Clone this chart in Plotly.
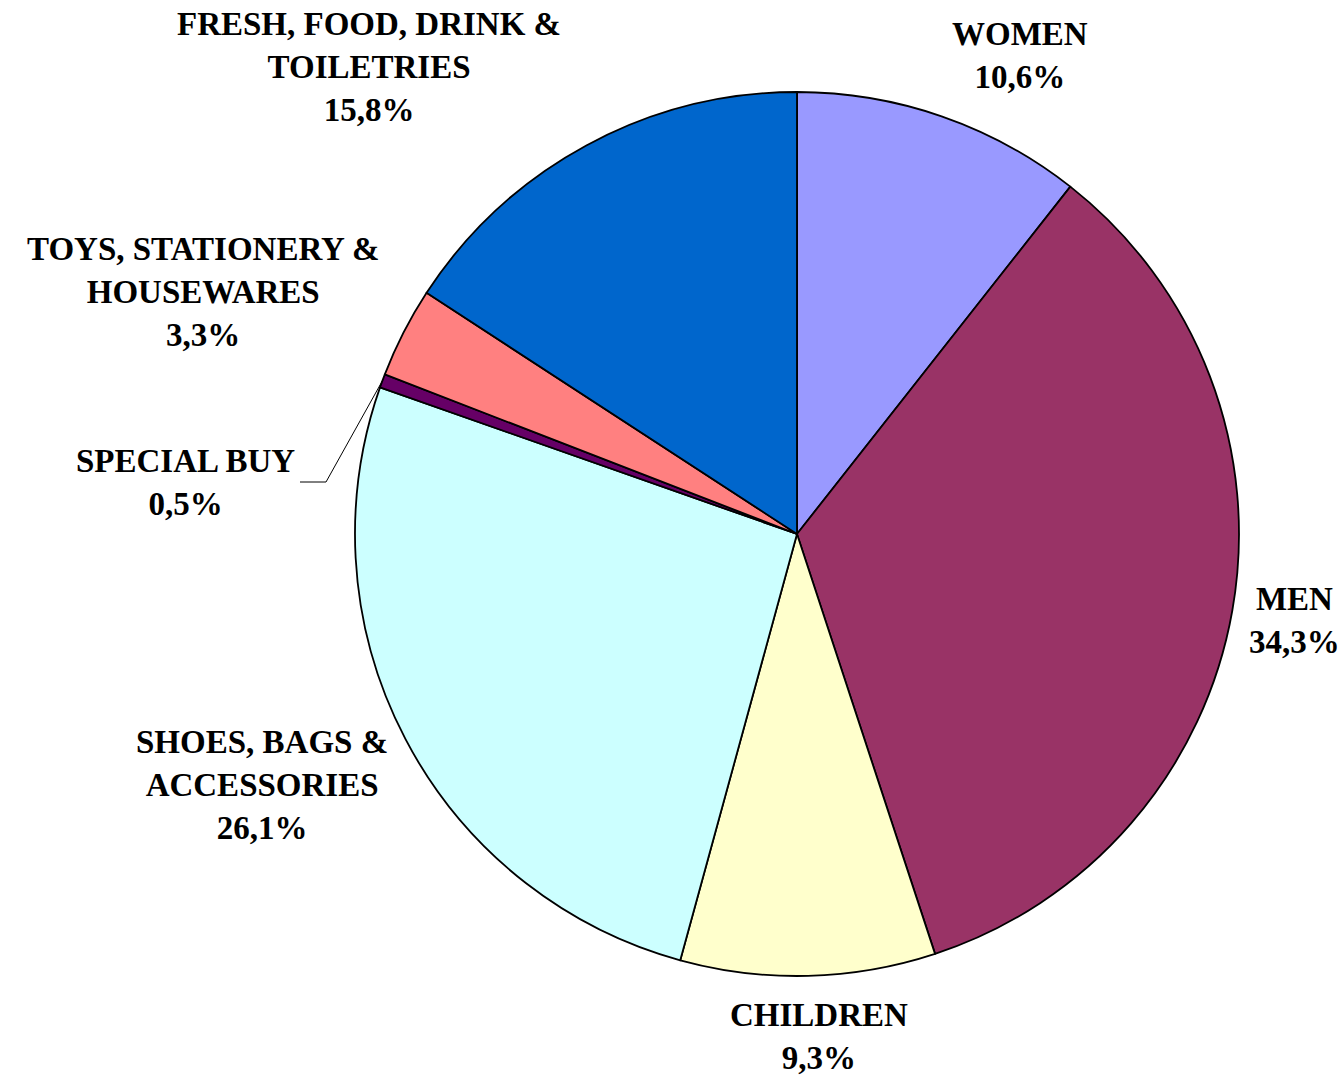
import math
import plotly.graph_objects as go

categories = ["WOMEN", "MEN", "CHILDREN", "SHOES, BAGS &<br>ACCESSORIES", "SPECIAL BUY",
              "TOYS, STATIONERY &<br>HOUSEWARES", "FRESH, FOOD, DRINK &<br>TOILETRIES"]
values = [10.6, 34.3, 9.3, 26.1, 0.5, 3.3, 15.8]
pct_labels = ["10,6%", "34,3%", "9,3%", "26,1%", "0,5%", "3,3%", "15,8%"]
colors = ["#9999FF", "#993366", "#FFFFCC", "#CCFFFF", "#660066", "#FF8080", "#0066CC"]

W, H = 1344, 1077
cx, cy, R = 797, 534, 442  # pie centre / radius in pixels
label_pos = [(1020, 55), (1294, 620), (819, 1036), (262, 785), (185, 482), (203, 292), (369, 67)]

fig = go.Figure(go.Pie(
    labels=[c.replace("<br>", " ") for c in categories],
    values=values,
    sort=False,
    direction="clockwise",
    rotation=0,
    textinfo="none",
    hoverinfo="label+percent",
    marker=dict(colors=colors, line=dict(color="black", width=1.8)),
    domain=dict(x=[(cx - R) / W, (cx + R) / W], y=[(H - cy - R) / H, (H - cy + R) / H]),
    showlegend=False,
))

font = dict(family="Liberation Serif", size=33, color="black")
for cat, pct, (lx, ly) in zip(categories, pct_labels, label_pos):
    fig.add_annotation(x=lx / W, y=1 - ly / H, xref="paper", yref="paper",
                       text=f"<b>{cat}<br>{pct}</b>", showarrow=False,
                       xanchor="center", yanchor="middle", font=font, align="center")

# leader line for SPECIAL BUY
total = sum(values)
idx = 4
start = sum(values[:idx]) / total * 360
mid = math.radians(start + values[idx] / total * 360 / 2)
ex, ey = cx + R * math.sin(mid), cy - R * math.cos(mid)
pts = [(300, 482), (326, 482), (ex, ey)]
path = "M " + " L ".join(f"{x / W},{1 - y / H}" for x, y in pts)
fig.add_shape(type="path", xref="paper", yref="paper", path=path,
              line=dict(color="black", width=1))

fig.update_layout(width=W, height=H, margin=dict(l=0, r=0, t=0, b=0),
                  paper_bgcolor="white", plot_bgcolor="white")
fig.write_html("out.html", config={"displayModeBar": False},
               post_script="document.body.style.margin='0';document.body.style.overflow='hidden';")
